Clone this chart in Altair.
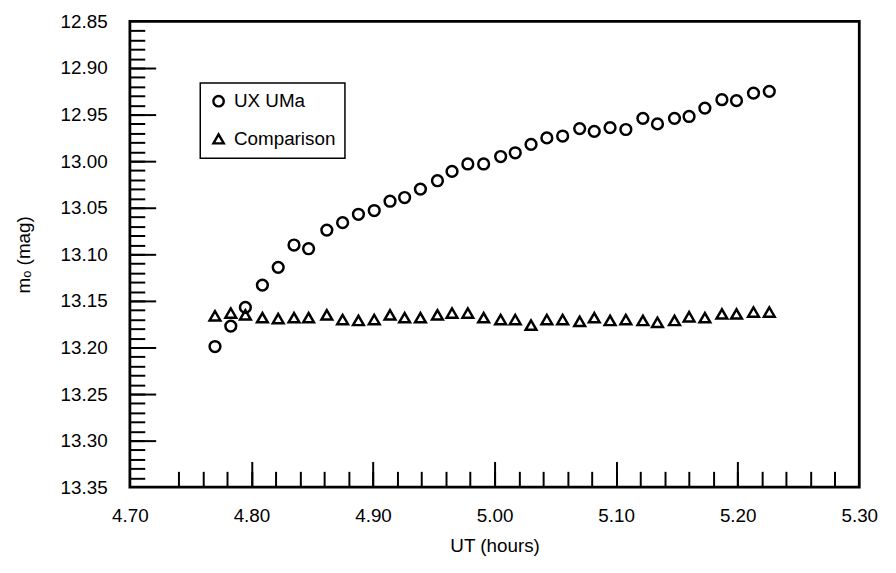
import altair as alt
import numpy as np
import pandas as pd

# ---- data ----
ut = [4.770, 4.783, 4.795, 4.809, 4.822, 4.835, 4.847, 4.862, 4.875, 4.888,
      4.901, 4.914, 4.926, 4.939, 4.953, 4.965, 4.978, 4.991, 5.005, 5.017,
      5.030, 5.043, 5.056, 5.070, 5.082, 5.095, 5.108, 5.122, 5.134, 5.148,
      5.160, 5.173, 5.187, 5.199, 5.213, 5.226]
ux_uma = [13.199, 13.177, 13.157, 13.133, 13.114, 13.090, 13.094, 13.074, 13.066, 13.057,
          13.053, 13.043, 13.039, 13.030, 13.021, 13.011, 13.003, 13.003, 12.995, 12.991,
          12.982, 12.975, 12.973, 12.965, 12.968, 12.964, 12.966, 12.954, 12.960, 12.954,
          12.952, 12.943, 12.934, 12.935, 12.927, 12.925]
comparison = [13.166, 13.163, 13.165, 13.168, 13.169, 13.168, 13.168, 13.165, 13.170, 13.171,
              13.170, 13.165, 13.168, 13.168, 13.165, 13.163, 13.163, 13.168, 13.170, 13.170,
              13.176, 13.170, 13.170, 13.172, 13.168, 13.171, 13.170, 13.171, 13.173, 13.171,
              13.167, 13.168, 13.164, 13.164, 13.162, 13.162]
series_names = ["UX UMa", "Comparison"]

x_label_values = [4.70, 4.80, 4.90, 5.00, 5.10, 5.20, 5.30]
y_label_values = [12.85, 12.90, 12.95, 13.00, 13.05, 13.10, 13.15, 13.20, 13.25, 13.30, 13.35]
x_major_ticks = [4.80, 4.90, 5.00, 5.10, 5.20]
x_minor_ticks = [round(v, 2) for v in np.arange(4.74, 5.29, 0.02)]
y_major_ticks = [12.90, 12.95, 13.00, 13.05, 13.10, 13.15, 13.20, 13.25, 13.30]
y_minor_ticks = [round(v, 2) for v in np.arange(12.86, 13.345, 0.01)]

df = pd.DataFrame({
    "ut": ut + ut,
    "mag": ux_uma + comparison,
    "series": [series_names[0]] * len(ut) + [series_names[1]] * len(ut),
})

W, H = 736, 470
FONT = "Liberation Sans"

xscale = alt.Scale(domain=[4.70, 5.30], nice=False, zero=False)
yscale = alt.Scale(domain=[12.85, 13.35], reverse=True, nice=False, zero=False)

base = alt.Chart(df)

points = base.mark_point(filled=False, size=118, strokeWidth=2.5, color="black", opacity=1).encode(
    x=alt.X("ut:Q", scale=xscale,
            axis=alt.Axis(orient="bottom", values=x_label_values, format=".2f", ticks=False,
                          domain=False, grid=False, labelPadding=20, labelFlush=False,
                          title="UT (hours)", titlePadding=11)),
    y=alt.Y("mag:Q", scale=yscale,
            axis=alt.Axis(orient="left", values=y_label_values, format=".2f", ticks=False,
                          domain=False, grid=False, labelPadding=23, labelFlush=False,
                          title="mₒ (mag)", titlePadding=27)),
    shape=alt.Shape("series:N",
                    scale=alt.Scale(domain=series_names, range=["circle", "triangle-up"]),
                    legend=alt.Legend(orient="none", legendX=71, legendY=62, title=None,
                                      strokeColor="black", fillColor="white",
                                      padding=9, labelFontSize=19, labelFont=FONT,
                                      labelColor="black", symbolSize=110,
                                      symbolStrokeWidth=2.4, symbolStrokeColor="black",
                                      rowPadding=18, labelOffset=6)),
)


def tick_layer(xvals, xlen, yvals, ylen):
    return base.mark_point(opacity=0).encode(
        x=alt.X("ut:Q", scale=xscale,
                axis=alt.Axis(orient="top", offset=-H, values=xvals, tickSize=xlen,
                              labels=False, domain=False, grid=False, title=None,
                              tickColor="black", tickWidth=2)),
        y=alt.Y("mag:Q", scale=yscale,
                axis=alt.Axis(orient="right", offset=-W, values=yvals, tickSize=ylen,
                              labels=False, domain=False, grid=False, title=None,
                              tickColor="black", tickWidth=2)),
    )


minor = tick_layer(x_minor_ticks, 16, y_minor_ticks, 15)
major = tick_layer(x_major_ticks, 26, y_major_ticks, 26)

chart = alt.layer(points, minor, major).resolve_axis(
    x="independent", y="independent"
).properties(
    width=W, height=H,
    autosize=alt.AutoSizeParams(type="none"),
    padding={"left": 123, "top": 11, "right": 29, "bottom": 84},
).configure_view(
    stroke="black", strokeWidth=2.8
).configure_axis(
    labelFont=FONT, titleFont=FONT, labelFontSize=19, titleFontSize=19,
    titleFontWeight="normal", labelColor="black", titleColor="black",
).configure_legend(
    strokeWidth=1.5
)

chart.save("out.html", embed_options={"renderer": "svg", "actions": False})
